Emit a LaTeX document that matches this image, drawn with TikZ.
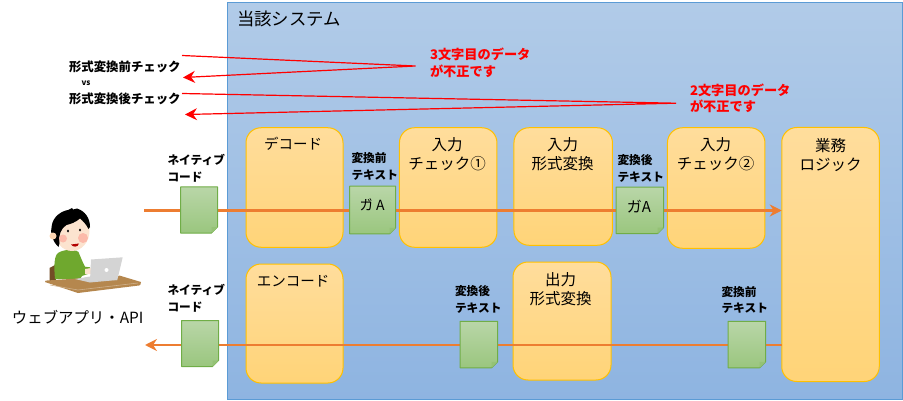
\documentclass[tikz,border=0pt]{standalone}
\usepackage{fontspec}
\setmainfont{Noto Sans CJK JP}
\usetikzlibrary{arrows.meta}

\definecolor{sysTop}{HTML}{B1CBE8}
\definecolor{sysBottom}{HTML}{8EB4E1}
\definecolor{sysLine}{HTML}{5B9BD5}
\definecolor{boxTop}{HTML}{FFDD9C}
\definecolor{boxBottom}{HTML}{FFD478}
\definecolor{boxLine}{HTML}{FFC000}
\definecolor{docTop}{HTML}{B9D6A8}
\definecolor{docBottom}{HTML}{9AC67E}
\definecolor{docLine}{HTML}{70AD47}
\definecolor{flowLine}{HTML}{ED7D31}
\definecolor{shirt}{HTML}{6FA82E}
\definecolor{skin}{HTML}{FCE3CF}
\definecolor{desk}{HTML}{B5874E}

\begin{document}
\begin{tikzpicture}[x=1pt,y=-1pt,inner sep=0pt,outer sep=0pt]
  \tikzstyle{stage}=[draw=boxLine,line width=1pt,rounded corners=15pt,top color=boxTop,bottom color=boxBottom]
  \tikzstyle{stagetext}=[align=center,font=\fontsize{15.5}{19}\selectfont]
  \tikzstyle{kanatext}=[font=\fontsize{14.5}{19}\selectfont]
  \tikzstyle{doctext}=[align=left,font=\bfseries\fontsize{11.7}{16.5}\selectfont]
  \tikzstyle{checktext}=[font=\bfseries\fontsize{12.4}{14}\selectfont]
  \tikzstyle{errtext}=[align=left,text=red,font=\bfseries\fontsize{13.2}{16.5}\selectfont]
  \tikzstyle{flow}=[draw=flowLine,line width=2.2pt,-{Stealth[length=12pt,width=12pt,inset=4pt]}]
  \tikzstyle{errflow}=[draw=red,line width=1.2pt,line join=bevel,-{Stealth[length=12pt,width=12pt,inset=4pt]}]

  \useasboundingbox (0,0) rectangle (903,401);

  % system frame
  \node[draw=sysLine,line width=1pt,top color=sysTop,bottom color=sysBottom,minimum width=675pt,minimum height=397.5pt] (system) at (564.5,201.2) {};
  \node[anchor=west,font=\fontsize{17.4}{20}\selectfont] (systemname) at (237,19) {当該システム};

  % processing steps
  \node[stage,minimum width=97pt,minimum height=119.5pt] (decode) at (294.5,187.5) {};
  \node[stage,minimum width=97.5pt,minimum height=119.5pt] (check1) at (448.2,187.5) {};
  \node[stage,minimum width=98.5pt,minimum height=117.5pt] (inconv) at (563.2,186.5) {};
  \node[stage,minimum width=97.5pt,minimum height=120.5pt] (check2) at (716.2,188) {};
  \node[stage,minimum width=97.5pt,minimum height=254pt] (logic) at (830.5,254.5) {};
  \node[stage,minimum width=97pt,minimum height=119pt] (encode) at (294.5,323.5) {};
  \node[stage,minimum width=98pt,minimum height=118pt] (outconv) at (562,321) {};

  \node[kanatext] (decodetext) at (293,144) {デコード};
  \node[stagetext,anchor=north] (check1text) at (447,138) {入力\\チェック①};
  \node[stagetext,anchor=north] (inconvtext) at (562.5,138) {入力\\形式変換};
  \node[stagetext,anchor=north] (check2text) at (715.7,138) {入力\\チェック②};
  \node[stagetext,anchor=north] (logictext) at (830.7,138) {業務\\ロジック};
  \node[kanatext] (encodetext) at (293,281) {エンコード};
  \node[stagetext,anchor=north] (outconvtext) at (560.7,273) {出力\\形式変換};

  % data flow
  \coordinate (appout) at (144,210.5);
  \coordinate (appin) at (145,345);
  \draw[flow] (appout) -- (appout -| logic.west);
  \draw[flow] (appin -| logic.west) -- (appin);

  % documents
  \node[minimum width=37pt,minimum height=46pt] (native1) at (199,210) {};
  \node[minimum width=37pt,minimum height=46pt] (native2) at (200,343.5) {};
  \node[minimum width=46pt,minimum height=47.5pt] (pretext1) at (372.6,210) {};
  \node[minimum width=47.5pt,minimum height=46.5pt] (posttext1) at (639.8,210.3) {};
  \node[minimum width=37.5pt,minimum height=46.5pt] (posttext2) at (478.8,344.5) {};
  \node[minimum width=37.5pt,minimum height=46.5pt] (pretext2) at (746.8,344.5) {};
  \foreach \doc in {native1,native2,pretext1,posttext1,posttext2,pretext2} {
    \draw[docLine,line width=1pt,top color=docTop,bottom color=docBottom,line join=round]
      (\doc.north west) -- (\doc.north east) -- ([yshift=6pt]\doc.south east)
      -- ([xshift=-6pt]\doc.south east) -- (\doc.south west) -- cycle;
    \fill[docLine!75!white] ([yshift=6pt]\doc.south east) -- ([xshift=-6pt,yshift=6pt]\doc.south east) -- ([xshift=-6pt]\doc.south east) -- cycle;
  }

  \node[font=\fontsize{14}{16}\selectfont] (pretext1val) at (372,205) {カ\kern-6pt ゛\kern-5.5pt A};
  \node[font=\fontsize{15}{16}\selectfont] (posttext1val) at (639,207) {ガA};

  \node[doctext,anchor=west] (native1text) at (167.5,168.5) {ネイティブ\\コード};
  \node[doctext,anchor=west] (native2text) at (167.5,298.5) {ネイティブ\\コード};
  \node[doctext,anchor=west] (pre1text) at (351.5,166.5) {変換前\\テキスト};
  \node[doctext,anchor=west] (post1text) at (617.5,168.5) {変換後\\テキスト};
  \node[doctext,anchor=west] (post2text) at (455,299.5) {変換後\\テキスト};
  \node[doctext,anchor=west] (pre2text) at (721.5,300) {変換前\\テキスト};

  % check comparison
  \node[checktext,anchor=west] (beforecheck) at (69,67) {形式変換前チェック};
  \node[font=\bfseries\fontsize{8}{9}\selectfont] (versus) at (86,83.5) {vs};
  \node[checktext,anchor=west] (aftercheck) at (69,99) {形式変換後チェック};
  \node[errtext,anchor=west] (err3) at (430,63) {3文字目のデータ\\が不正です};
  \node[errtext,anchor=west] (err2) at (690,98.5) {2文字目のデータ\\が不正です};

  \coordinate (before1) at (182,55.5);
  \coordinate (turn3) at (415.5,66);
  \coordinate (before2) at (183,77.5);
  \coordinate (after1) at (182,93.5);
  \coordinate (turn2) at (676,103.2);
  \coordinate (after2) at (185,114.5);
  \draw[errflow] (before1) -- (turn3) -- (before2);
  \draw[errflow] (after1) -- (turn2) -- (after2);

  % user at the laptop
  \fill[brown!60!black] (49.5,268) -- (55,265) -- (56,281) -- (49.5,281) -- cycle;
  \fill[shirt] (55,279) .. controls (54,268) and (54,258) .. (57,254) .. controls (60,250) and (74,248) .. (78.5,252) .. controls (81,258) and (83,263) .. (85,266.7) -- (90,267.3) -- (90,273.3) -- (82,276) -- (80,279) -- cycle;
  \fill[skin] (72,231) ellipse[x radius=17.5,y radius=20];
  \fill[skin] (85,269) -- (91,268) -- (91,274) -- (85,274) -- cycle;
  \fill[black] (58.5,247) .. controls (52,241) and (50,232) .. (51.7,226) .. controls (53,216) and (62,211) .. (68,210) -- (72,208) -- (73,209.5) -- (77,208.5) .. controls (85,211) and (90,218) .. (90,227) -- (88.5,229) .. controls (86,224) and (83,221) .. (80,218.5) .. controls (76,222) and (71,224) .. (66.5,225) .. controls (61,228) and (58,236) .. (59.5,243) -- cycle;
  \fill[skin!85!orange] (53,236) circle[radius=3.5];
  \fill[red!18!skin] (83,238) circle[radius=5];
  \fill[red!18!skin] (63,238.5) circle[radius=4];
  \fill[black] (68,231) ellipse[x radius=1.1,y radius=1.5] (80,230) ellipse[x radius=1.1,y radius=1.5];
  \fill[red!70!black] (71,244.5) -- (79,243.5) .. controls (78,247.5) and (73,247.5) .. (71,244.5) -- cycle;
  \fill[desk] (45,282) .. controls (45,280.5) and (46,280.5) .. (47,280.5) -- (120,275.7) -- (141,282) .. controls (141,285) and (140,285) .. (139,285.5) -- (78,293) -- cycle;
  \draw[desk!65!white,line width=0.6pt] (50,285) -- (78,290) -- (138,283);
  \fill[black!18] (75,279) -- (90,276.5) -- (117,280) -- (90,282.5) -- cycle;
  \fill[black!17] (91,259.5) -- (122.7,257.3) -- (117.3,280) -- (90,281) -- cycle;
  \fill[white] (106.5,270) circle[radius=2];

  \node[anchor=west,font=\fontsize{15.4}{18}\selectfont] (appname) at (12,317.5) {ウェブアプリ・API};
\end{tikzpicture}
\end{document}
